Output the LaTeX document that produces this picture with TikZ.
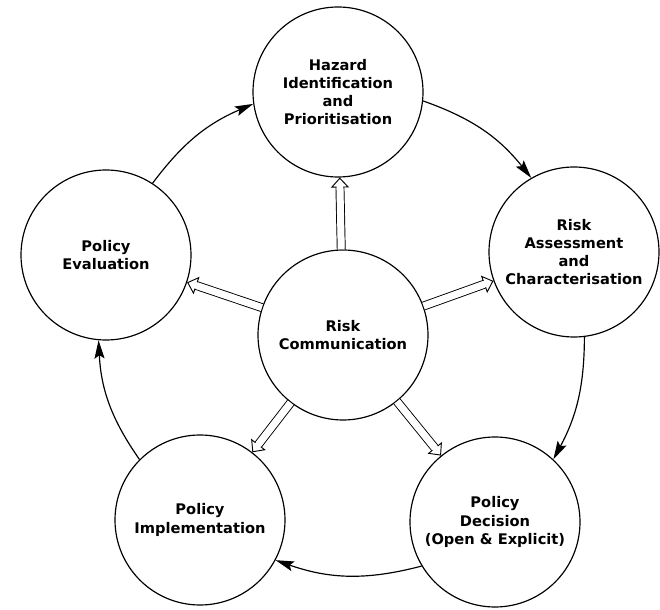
\documentclass[tikz,border=0pt]{standalone}
\usepackage{fontspec}
\setmainfont{DejaVu Sans}
\usetikzlibrary{arrows.meta}
\tikzset{
    stage/.style={circle, draw=black, line width=1pt, minimum size=51mm, inner sep=0pt, align=center, font=\bfseries\fontsize{12.5}{15.5}\selectfont},
    cyclearrow/.style={-{Stealth[length=5.5mm, width=3mm, inset=1mm]}, line width=1pt},
    hollow/.style={double, double distance=6pt, line width=0.8pt, -{Triangle[open, length=3mm, width=5.5mm]},
        postaction={draw=white, line width=5.5pt, -, shorten >=2.4mm, shorten <=1pt}},
}

\begin{document}
\begin{tikzpicture}[x=0.3mm, y=0.3mm]
    \useasboundingbox (0,0) rectangle (660,610);
    % Stages
    \node[stage] (haz) at (338,518) {Hazard\\Identification\\and\\Prioritisation};
    \node[stage] (assess) at (574,358) {Risk\\Assessment\\and\\Characterisation};
    \node[stage] (dec) at (495,88) {Policy\\Decision\\(Open \& Explicit)};
    \node[stage] (impl) at (200,90) {Policy\\Implementation};
    \node[stage] (eval) at (106,355) {Policy\\Evaluation};
    \node[stage] (comm) at (343,275) {Risk\\Communication};

    % Outer cycle
    \draw[cyclearrow] (eval.57) to[bend left=15] (haz.188);
    \draw[cyclearrow] (haz.354) to[bend left=16] (assess.120);
    \draw[cyclearrow] (assess.277) to[bend left=14] (dec.47);
    \draw[cyclearrow] (dec.211) to[bend left=17] (impl.-28);
    \draw[cyclearrow] (impl.135) to[bend left=16] (eval.265);

    % Communication spokes
    \draw[hollow] (comm) -- (haz);
    \draw[hollow] (comm) -- (assess);
    \draw[hollow] (comm) -- (dec);
    \draw[hollow] (comm) -- (impl);
    \draw[hollow] (comm) -- (eval);
\end{tikzpicture}
\end{document}
